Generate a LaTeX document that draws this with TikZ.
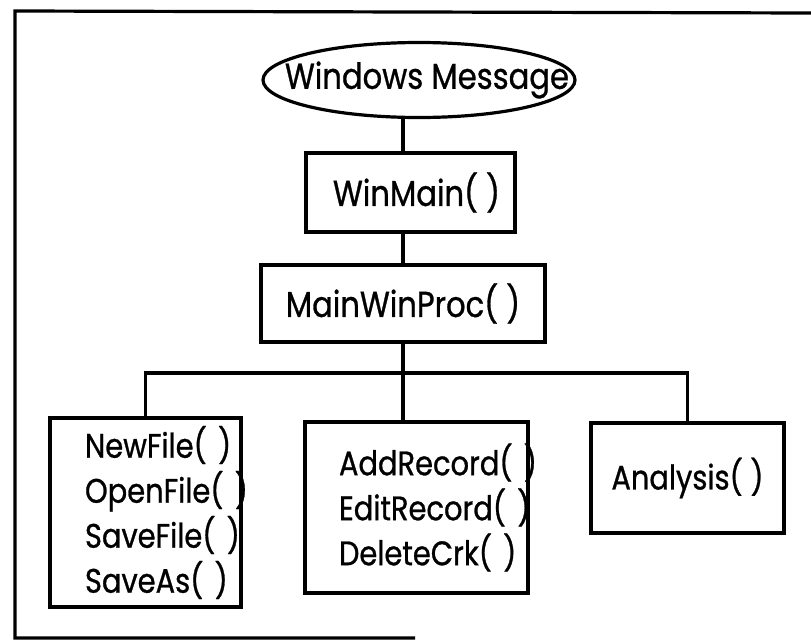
\documentclass[tikz,border=0pt]{standalone}
\usepackage{fontspec}
\setmainfont{Poppins}[FakeStretch=0.85, FakeBold=0.8]
\usetikzlibrary{shapes.geometric}

\begin{document}
\begin{tikzpicture}[x=1pt, y=-1pt,
		m/.style = {ellipse, draw, line width=3.2pt, font=\fontsize{36}{40}\selectfont},
		f/.style = {rectangle, draw, line width=3.2pt, font=\fontsize{36}{40}\selectfont},
		l/.style = {rectangle, draw, line width=3.2pt, align=left, inner ysep=0pt, font=\fontsize{34}{45}\selectfont},
		r/.style = {line width=3.2pt}
		]
		\useasboundingbox (0,0) rectangle (811,640);
		
		% === === Frame === ===
		\draw[r]	(811,13) -- (15,11) -- (15,638) -- (415,638);
		
		% === === Nodes === ===
		\node[m, minimum width=312, minimum height=75]	(msg)	at	(419, 80)		{\makebox[0pt]{\hspace{16pt}Windows Message}};
		\node[f, minimum width=209, minimum height=79]	(wm)	at	(410.5, 192.5)	{\hspace{12pt}WinMain( )};
		\node[f, minimum width=284, minimum height=77]	(mp)	at	(403, 303.5)	{MainWinProc( )};
		
		\node[l, minimum height=189, text width=121, inner xsep=35]	(fl)	at	(145.5, 512.5)	{NewFile(~)\\OpenFile(~)\\SaveFile(~)\\SaveAs(~)};
		\node[l, minimum height=171, text width=155, inner xsep=34]	(rec)	at	(416.5, 507.5)	{AddRecord(~)\\EditRecord(~)\\DeleteCrk(~)};
		\node[f, minimum width=193, minimum height=110, font=\fontsize{34}{40}\selectfont]	(an)	at	(687.5, 478)	{Analysis( )};
		
		\coordinate	(bus)	at	(403, 373);
		
		% === === Lines === ===
		\draw[r]	(msg.south -| mp.north)	to	(wm.north -| mp.north);
		\draw[r]	(wm.south -| mp.north)	to	(mp.north);
		\draw[r]	(mp.south)		to	(mp.south |- rec.north);
		\draw[r]	(fl.north)		|-	(bus)	-|	(an.north);
		
	\end{tikzpicture}
\end{document}
